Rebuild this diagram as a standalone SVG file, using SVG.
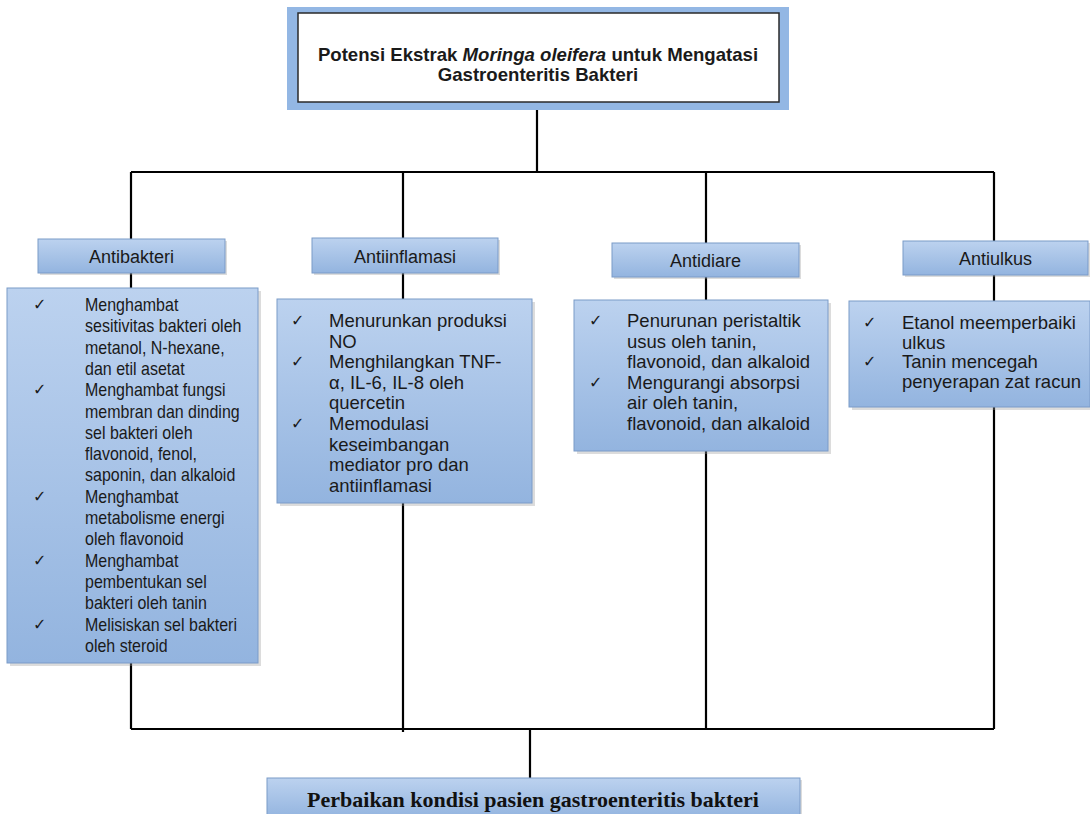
<svg xmlns="http://www.w3.org/2000/svg" width="1090" height="814" viewBox="0 0 1090 814">
<defs>
<linearGradient id="bg" x1="0" y1="0" x2="0" y2="1">
<stop offset="0" stop-color="#bcd2ef"/>
<stop offset="1" stop-color="#93b4df"/>
</linearGradient>
<style>
.box{fill:url(#bg);stroke:#7b9bc8;stroke-width:1}
.sh{fill:#9a9a9a;opacity:0.35}
.t{font-family:"Liberation Sans",Arial,sans-serif;font-size:18.5px;fill:#1a1a1a}
.t2{font-family:"Liberation Sans",Arial,sans-serif;font-size:16px;fill:#1a1a1a}
.h{font-family:"Liberation Sans",Arial,sans-serif;font-size:18px;fill:#1a1a1a;text-anchor:middle}
.ck{font-family:"DejaVu Sans",sans-serif;font-size:16px;fill:#1a1a1a}
.c{stroke:#000;stroke-width:2.2;fill:none}
</style>
</defs>
<rect width="1090" height="814" fill="#fff"/>

<g id="connectors">
<path class="c" d="M537 110V172M131 172H994M131 172V239M403 172V238M706 172V243M994 172V241"/>
<path class="c" d="M131 273V288M403 273V299M706 277V300M994 275V301"/>
<path class="c" d="M131 663V729M403 503V732M706 451V729M994 407V729M131 729H994M530 729V778"/>
</g>

<g id="title">
<rect x="287" y="7" width="502" height="103" fill="#93b7e4"/>
<rect x="298" y="13" width="481" height="89" fill="#fff" stroke="#2a2a2a" stroke-width="1.5"/>
<text x="538" y="61" class="h" style="font-weight:bold;font-size:18.6px">Potensi Ekstrak <tspan font-style="italic">Moringa oleifera</tspan> untuk Mengatasi</text>
<text x="538" y="81" class="h" style="font-weight:bold;font-size:18.6px">Gastroenteritis Bakteri</text>
</g>

<g id="antibakteri-head">
<rect class="sh" x="40" y="241" width="187" height="34"/>
<rect class="box" x="38" y="239" width="187" height="34"/>
<text class="h" x="131.5" y="263">Antibakteri</text>
</g>
<g id="antiinflamasi-head">
<rect class="sh" x="314" y="240" width="186" height="35"/>
<rect class="box" x="312" y="238" width="186" height="35"/>
<text class="h" x="405" y="263">Antiinflamasi</text>
</g>
<g id="antidiare-head">
<rect class="sh" x="614" y="245" width="187" height="34"/>
<rect class="box" x="612" y="243" width="187" height="34"/>
<text class="h" x="705.5" y="267">Antidiare</text>
</g>
<g id="antiulkus-head">
<rect class="sh" x="905" y="243" width="185" height="34"/>
<rect class="box" x="903" y="241" width="185" height="34"/>
<text class="h" x="995.5" y="265">Antiulkus</text>
</g>

<g id="antibakteri-box">
<rect class="sh" x="10" y="291" width="251" height="375"/>
<rect class="box" x="7" y="288" width="251" height="375"/>
<text class="ck" x="33" y="310">✓</text>
<text class="ck" x="33" y="395">✓</text>
<text class="ck" x="33" y="502">✓</text>
<text class="ck" x="33" y="566">✓</text>
<text class="ck" x="33" y="630">✓</text>
<text class="t2" transform="translate(85 311) scale(1 1.15)">Menghambat</text>
<text class="t2" transform="translate(85 332.3) scale(1 1.15)">sesitivitas bakteri oleh</text>
<text class="t2" transform="translate(85 353.6) scale(1 1.15)">metanol, N-hexane,</text>
<text class="t2" transform="translate(85 374.9) scale(1 1.15)">dan etil asetat</text>
<text class="t2" transform="translate(85 396.2) scale(1 1.15)">Menghambat fungsi</text>
<text class="t2" transform="translate(85 417.5) scale(1 1.15)">membran dan dinding</text>
<text class="t2" transform="translate(85 438.8) scale(1 1.15)">sel bakteri oleh</text>
<text class="t2" transform="translate(85 460.1) scale(1 1.15)">flavonoid, fenol,</text>
<text class="t2" transform="translate(85 481.4) scale(1 1.15)">saponin, dan alkaloid</text>
<text class="t2" transform="translate(85 502.7) scale(1 1.15)">Menghambat</text>
<text class="t2" transform="translate(85 524) scale(1 1.15)">metabolisme energi</text>
<text class="t2" transform="translate(85 545.3) scale(1 1.15)">oleh flavonoid</text>
<text class="t2" transform="translate(85 566.6) scale(1 1.15)">Menghambat</text>
<text class="t2" transform="translate(85 587.9) scale(1 1.15)">pembentukan sel</text>
<text class="t2" transform="translate(85 609.2) scale(1 1.15)">bakteri oleh tanin</text>
<text class="t2" transform="translate(85 630.5) scale(1 1.15)">Melisiskan sel bakteri</text>
<text class="t2" transform="translate(85 651.8) scale(1 1.15)">oleh steroid</text>
</g>

<g id="antiinflamasi-box">
<rect class="sh" x="280" y="302" width="255" height="204"/>
<rect class="box" x="277" y="299" width="255" height="204"/>
<text class="ck" x="291" y="326">✓</text>
<text class="ck" x="291" y="367">✓</text>
<text class="ck" x="291" y="429">✓</text>
<text class="t" x="329" y="327">Menurunkan produksi</text>
<text class="t" x="329" y="347.6">NO</text>
<text class="t" x="329" y="368.2">Menghilangkan TNF-</text>
<text class="t" x="329" y="388.8">α, IL-6, IL-8 oleh</text>
<text class="t" x="329" y="409.4">quercetin</text>
<text class="t" x="329" y="430">Memodulasi</text>
<text class="t" x="329" y="450.6">keseimbangan</text>
<text class="t" x="329" y="471.2">mediator pro dan</text>
<text class="t" x="329" y="491.8">antiinflamasi</text>
</g>

<g id="antidiare-box">
<rect class="sh" x="577" y="303" width="254" height="151"/>
<rect class="box" x="574" y="300" width="254" height="151"/>
<text class="ck" x="589" y="326">✓</text>
<text class="ck" x="589" y="388">✓</text>
<text class="t" x="627" y="327">Penurunan peristaltik</text>
<text class="t" x="627" y="347.6">usus oleh tanin,</text>
<text class="t" x="627" y="368.2">flavonoid, dan alkaloid</text>
<text class="t" x="627" y="388.8">Mengurangi absorpsi</text>
<text class="t" x="627" y="409.4">air oleh tanin,</text>
<text class="t" x="627" y="430">flavonoid, dan alkaloid</text>
</g>

<g id="antiulkus-box">
<rect class="sh" x="852" y="304" width="241" height="106"/>
<rect class="box" x="849" y="301" width="241" height="106"/>
<text class="ck" x="863" y="328">✓</text>
<text class="ck" x="863" y="367">✓</text>
<text class="t" x="902" y="329">Etanol meemperbaiki</text>
<text class="t" x="902" y="348.5">ulkus</text>
<text class="t" x="902" y="368">Tanin mencegah</text>
<text class="t" x="902" y="387.5">penyerapan zat racun</text>
</g>

<g id="outcome">
<rect class="sh" x="269" y="780" width="533" height="40"/>
<rect class="box" x="267" y="778" width="533" height="40"/>
<text x="533" y="807" text-anchor="middle" style="font-family:'Liberation Serif','Times New Roman',serif;font-size:22px;font-weight:bold;fill:#111">Perbaikan kondisi pasien gastroenteritis bakteri</text>
</g>
</svg>
